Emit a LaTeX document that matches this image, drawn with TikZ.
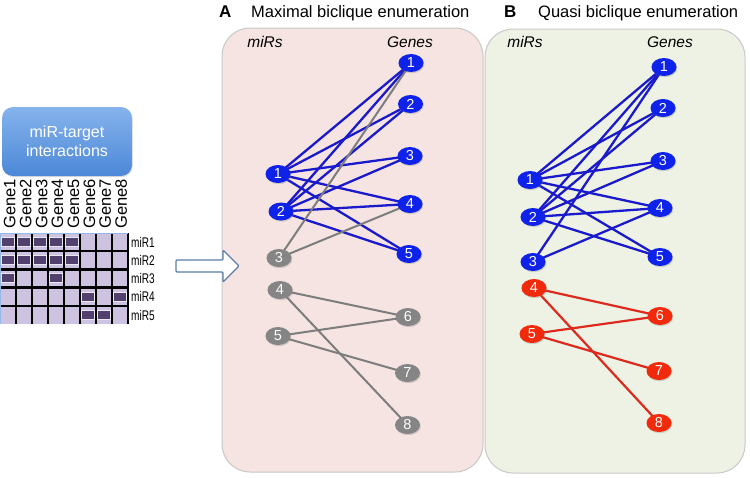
\documentclass[tikz,border=0pt]{standalone}
\usepackage{fontspec}
\setmainfont{Liberation Sans}
\usetikzlibrary{shapes.geometric,shadows}
\pgfdeclarelayer{bg}
\pgfdeclarelayer{edges}
\pgfsetlayers{bg,edges,main}
\definecolor{panelApink}{HTML}{F5E4E2}
\definecolor{panelBgreen}{HTML}{EEF2E4}
\definecolor{panelborder}{HTML}{C8C8C8}
\definecolor{nodeblue}{HTML}{0F22EA}
\definecolor{edgeblue}{HTML}{1A1ACC}
\definecolor{nodegray}{HTML}{858585}
\definecolor{edgegray}{HTML}{7D7D7D}
\definecolor{nodered}{HTML}{F22A0C}
\definecolor{edgered}{HTML}{DE2A1E}
\definecolor{boxtop}{HTML}{86B3EC}
\definecolor{boxbot}{HTML}{4C88D8}
\definecolor{lav}{HTML}{CDC3E1}
\definecolor{markpurple}{HTML}{52406F}
\definecolor{arrowline}{HTML}{5A7DAA}
\begin{document}
\begin{tikzpicture}[x=1pt,y=-1pt,
  mnode/.style={ellipse, minimum width=25pt, minimum height=18pt, inner sep=0pt,
    text=white, font=\fontsize{14.5}{14.5}\selectfont,
    drop shadow={opacity=0.3, shadow xshift=0.8pt, shadow yshift=-1.2pt}},
  bnode/.style={mnode, fill=nodeblue},
  gnode/.style={mnode, fill=nodegray},
  rnode/.style={mnode, fill=nodered},
  bedge/.style={draw=edgeblue, line width=2.3pt},
  gedge/.style={draw=edgegray, line width=2pt},
  redge/.style={draw=edgered, line width=2.2pt},
  panel/.style={draw=panelborder, line width=1pt, rounded corners=28pt, inner sep=0pt},
  txt/.style={inner sep=0pt},
  titlebold/.style={txt, font=\bfseries\fontsize{17}{17}\selectfont},
  titletext/.style={txt, font=\fontsize{16.5}{16.5}\selectfont},
  collabel/.style={txt, font=\itshape\fontsize{15.5}{15.5}\selectfont},
  genelabel/.style={txt, rotate=90, anchor=base west, font=\fontsize{16.5}{16.5}\selectfont},
  mirlabel/.style={txt, anchor=west, font=\fontsize{14}{14}\selectfont},
]
\useasboundingbox (0,0) rectangle (750,477);

% panels
\begin{pgfonlayer}{bg}
\node[panel, fill=panelApink, minimum width=261pt, minimum height=444pt] (panelA) at (352.5,250) {};
\node[panel, fill=panelBgreen, minimum width=260pt, minimum height=444pt] (panelB) at (615,251) {};
\end{pgfonlayer}

% titles
\node[titlebold, anchor=base west] (tA) at (219,17) {A};
\node[titletext, anchor=base west] (tAtext) at (251,17) {Maximal biclique enumeration};
\node[titlebold, anchor=base west] (tB) at (504,17) {B};
\node[titletext, anchor=base west] (tBtext) at (538,17) {Quasi biclique enumeration};

\node[collabel, anchor=base] (mirsA) at (265,47) {miRs};
\node[collabel, anchor=base] (genesA) at (410,47) {Genes};
\node[collabel, anchor=base] (mirsB) at (525,47) {miRs};
\node[collabel, anchor=base] (genesB) at (670,47) {Genes};

% left box
\node[txt, rounded corners=11pt, top color=boxtop, bottom color=boxbot,
  minimum width=130pt, minimum height=69pt, text=white, align=center,
  font=\fontsize{16}{19}\selectfont,
  drop shadow={opacity=0.25, shadow xshift=0.8pt, shadow yshift=-1.2pt}] (mtbox) at (67,141.5)
  {miR-target\\interactions};

% gene column labels
\foreach \i in {1,...,8} {
  \node[genelabel] (gl\i) at ({15.5+15.9*(\i-1)},229) {Gene\i};
}

% matrix
\fill[lav] (0,233) rectangle (128,324);
\foreach \r/\cols in {0/{0,1,2,3,4},1/{0,1,2,3,4},2/{0,3},3/{5,7},4/{5,6}} {
  \foreach \c in \cols {
    \fill[white!60!lav] ({16*\c+1.2},{233+18.2*\r+4}) rectangle ({16*\c+14.5},{233+18.2*\r+14});
    \fill[markpurple] ({16*\c+2},{233+18.2*\r+5}) rectangle ({16*\c+13.5},{233+18.2*\r+13});
  }
}
\foreach \c in {1,...,8} {
  \draw[black, line width=2.4pt] ({16*\c},233) -- ({16*\c},324);
}
\foreach \r in {1,...,4} {
  \draw[black, line width=2.4pt] (0,{233+18.2*\r}) -- (128,{233+18.2*\r});
}
\draw[boxbot!60, line width=1.2pt] (0.6,324) -- (0.6,233.6) -- (128,233.6);
\foreach \r in {1,...,5} {
  \node[mirlabel] (ml\r) at (131,{233+18.2*(\r-1)+9.2}) {\scalebox{0.72}[1]{miR\r}};
}

% arrow
\draw[arrowline, fill=white, line width=1.2pt, rounded corners=1pt]
  (176,260) -- (223,260) -- (223,250) -- (239,266) -- (223,282) -- (223,272) -- (176,272) -- cycle;

% panel A nodes
\node[bnode] (am1) at (278,174) {1};
\node[bnode] (am2) at (281,211.5) {2};
\node[gnode] (am3) at (279,258) {3};
\node[gnode] (am4) at (280,290) {4};
\node[gnode] (am5) at (278,336) {5};
\node[bnode] (ag1) at (411,63) {1};
\node[bnode] (ag2) at (410.5,104) {2};
\node[bnode] (ag3) at (410,156) {3};
\node[bnode] (ag4) at (410,204) {4};
\node[bnode] (ag5) at (409,254) {5};
\node[gnode] (ag6) at (408,317) {6};
\node[gnode] (ag7) at (407.5,373) {7};
\node[gnode] (ag8) at (407.5,425) {8};

% panel B nodes
\node[bnode] (bm1) at (530,180) {1};
\node[bnode] (bm2) at (533,217) {2};
\node[bnode] (bm3) at (533,262) {3};
\node[rnode] (bm4) at (534,288) {4};
\node[rnode] (bm5) at (532,334) {5};
\node[bnode] (bg1) at (664,67) {1};
\node[bnode] (bg2) at (663,108) {2};
\node[bnode] (bg3) at (663,161) {3};
\node[bnode] (bg4) at (660,208) {4};
\node[bnode] (bg5) at (660,257) {5};
\node[rnode] (bg6) at (660,316) {6};
\node[rnode] (bg7) at (659,371) {7};
\node[rnode] (bg8) at (659,423) {8};

% edges
\begin{pgfonlayer}{edges}
\foreach \m in {1,2} {
  \foreach \g in {1,...,5} {
    \draw[bedge] (am\m.center) -- (ag\g.center);
    \draw[bedge] (bm\m.center) -- (bg\g.center);
  }
}
\draw[gedge] (am3.center) -- (ag1.center);
\draw[gedge] (am3.center) -- (ag4.center);
\draw[gedge] (am4.center) -- (ag6.center);
\draw[gedge] (am4.center) -- (ag8.center);
\draw[gedge] (am5.center) -- (ag6.center);
\draw[gedge] (am5.center) -- (ag7.center);
\draw[bedge] (bm3.center) -- (bg1.center);
\draw[bedge] (bm3.center) -- (bg4.center);
\draw[redge] (bm4.center) -- (bg6.center);
\draw[redge] (bm4.center) -- (bg8.center);
\draw[redge] (bm5.center) -- (bg6.center);
\draw[redge] (bm5.center) -- (bg7.center);
\end{pgfonlayer}
\end{tikzpicture}
\end{document}
